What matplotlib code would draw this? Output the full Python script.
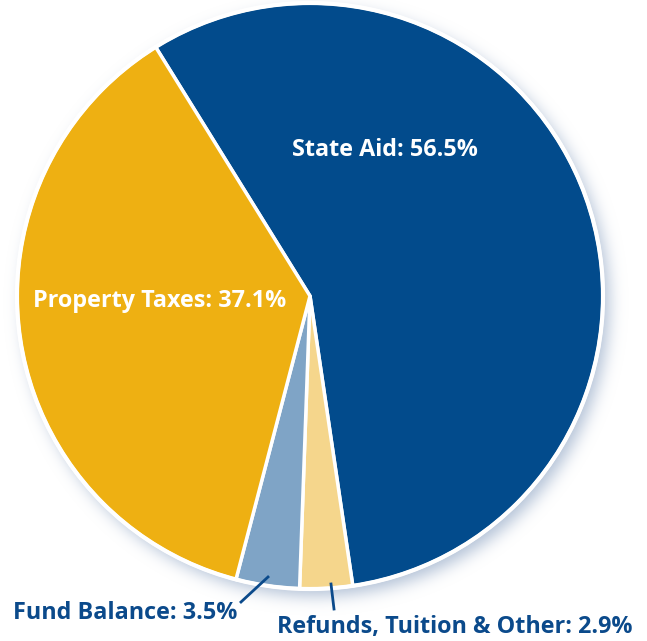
import numpy as np
import matplotlib.pyplot as plt
from matplotlib.patches import Circle
from math import erf

# revenue shares, clockwise from the top-left boundary
labels = ["State Aid", "Refunds, Tuition & Other", "Fund Balance", "Property Taxes"]
shares = [56.5, 2.9, 3.5, 37.1]
colors = ["#024b8c", "#f5d68c", "#7fa4c6", "#eeb012"]

W, H = 647, 641
cx, cy, R = 310, H - 296, 293

fig = plt.figure(figsize=(W / 100, H / 100), dpi=100)
ax = fig.add_axes([0, 0, 1, 1])

# soft shadow behind the disc
xx, yy = np.meshgrid(np.arange(W) + 0.5, np.arange(H) + 0.5)
d = np.hypot(xx - (cx + 6), (H - yy) - (cy - 7))
verf = np.vectorize(erf)
a = 0.75 * 0.5 * (1 - verf((d - R) / 11.0))
img = np.zeros((H, W, 4))
img[..., 0], img[..., 1], img[..., 2] = 0.60, 0.68, 0.79
img[..., 3] = a
ax.imshow(img, extent=(0, W, 0, H), origin="upper", zorder=0)

ax.pie(shares, colors=colors, startangle=121.8, counterclock=False,
       center=(cx, cy), radius=R, frame=True,
       wedgeprops=dict(edgecolor="white", linewidth=2.5, zorder=2))
ax.set_xlim(0, W)
ax.set_ylim(0, H)
ax.axis("off")
ax.add_patch(Circle((cx, cy), R, fill=False, edgecolor="white", lw=3, zorder=3))

font = ["Open Sans", "DejaVu Sans"]
navy = "#0b4a8b"
fs = 16.8
ax.text(385, H - 150, f"{labels[0]}: {shares[0]}%", color="white", fontsize=fs,
        fontweight="bold", ha="center", va="center", family=font, zorder=5)
ax.text(160, H - 301, f"{labels[3]}: {shares[3]}%", color="white", fontsize=fs,
        fontweight="bold", ha="center", va="center", family=font, zorder=5)
ax.text(125, H - 613, f"{labels[2]}: {shares[2]}%", color=navy, fontsize=fs,
        fontweight="bold", ha="center", va="center", family=font, zorder=5)
ax.text(455, H - 627, f"{labels[1]}: {shares[1]}%", color=navy, fontsize=fs,
        fontweight="bold", ha="center", va="center", family=font, zorder=5)

# leader lines
ax.plot([268, 241], [H - 577, H - 602], color=navy, lw=2, zorder=5)
ax.plot([331, 334], [H - 584, H - 609], color=navy, lw=2, zorder=5)

fig.savefig("out.png", dpi=100)
